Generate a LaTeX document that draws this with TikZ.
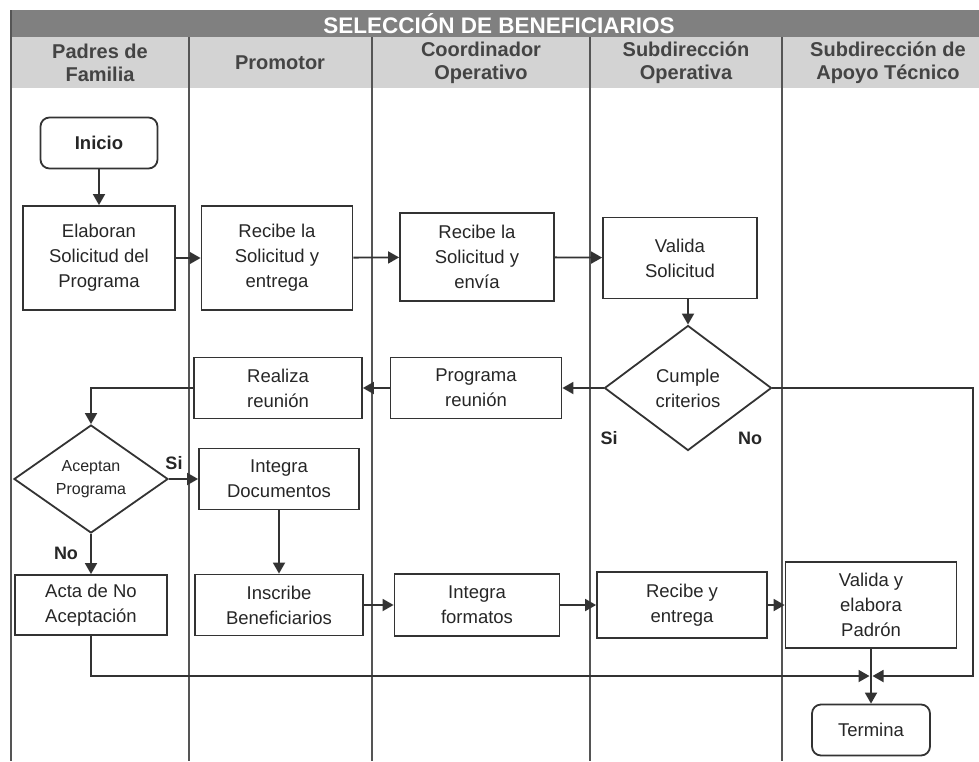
\documentclass[tikz,border=0pt]{standalone}
\usepackage{fontspec}
\setmainfont{Liberation Sans}
\usetikzlibrary{shapes.geometric,arrows.meta}

\definecolor{boxline}{HTML}{333333}
\definecolor{laneline}{HTML}{555555}
\definecolor{titlegray}{HTML}{808080}
\definecolor{headgray}{HTML}{D3D3D3}
\definecolor{headtext}{HTML}{444444}

\begin{document}
\begin{tikzpicture}[x=1pt, y=-1pt,
    block/.style={rectangle, draw=boxline, line width=1.8pt, align=center, inner sep=2pt, text=black!85, font=\fontsize{18.5}{25}\selectfont},
    term/.style={block, rounded corners=9pt},
    decision/.style={diamond, draw=boxline, line width=1.8pt, align=center, inner sep=0pt, text=black!85, font=\fontsize{18.5}{25}\selectfont},
    flow/.style={draw=boxline, line width=1.8pt, -{Triangle[width=12pt,length=11pt]}},
    tag/.style={font=\bfseries\fontsize{18}{20}\selectfont, text=black!85},
    lane/.style={draw=laneline, line width=1.2pt},
    header/.style={font=\bfseries\fontsize{20}{23}\selectfont, text=headtext, align=center}]
    \useasboundingbox (0,0) rectangle (979,761);
    % title band and lane headers
    \fill [titlegray] (11,10) rectangle (979,37);
    \fill [headgray] (11,37) rectangle (979,88);
    \node [font=\bfseries\fontsize{22.5}{25}\selectfont, text=white] (title) at (499,24) {SELECCIÓN DE BENEFICIARIOS};
    \node [header] (padres) at (100,63) {Padres de\\Familia};
    \node [header] (promotor) at (280,63) {Promotor};
    \node [header] (coord) at (481,63) {Coordinador\\Operativo};
    \node [header] (subope) at (686,63) {Subdirección\\Operativa};
    \node [header] (subapoyo) at (888,63) {Subdirección de\\Apoyo Técnico};
    \draw [lane] (11,10) -- (11,761);
    \foreach \x in {189,372,590,782}
        \draw [lane] (\x,37) -- (\x,761);
    % nodes
    \node [term, font=\bfseries\fontsize{18.5}{25}\selectfont, minimum width=117pt, minimum height=51pt] (inicio) at (99,143) {Inicio};
    \node [block, minimum width=152pt, minimum height=104pt] (elaboran) at (99,258) {Elaboran\\Solicitud del\\Programa};
    \node [block, minimum width=151pt, minimum height=104pt] (recibe) at (277,258) {Recibe la\\Solicitud y\\entrega};
    \node [block, minimum width=154pt, minimum height=88pt] (recibeenv) at (477,257) {Recibe la\\Solicitud y\\envía};
    \node [block, minimum width=154pt, minimum height=81pt] (valida) at (680,258) {Valida\\Solicitud};
    \node [decision, minimum width=167pt, minimum height=125pt] (cumple) at (688,388) {Cumple\\criterios};
    \node [block, minimum width=171pt, minimum height=61pt] (programa) at (476,388) {Programa\\reunión};
    \node [block, minimum width=168pt, minimum height=61pt] (realiza) at (278,388) {Realiza\\reunión};
    \node [decision, font=\fontsize{16}{23}\selectfont, minimum width=154pt, minimum height=108pt] (aceptan) at (91,479) {Aceptan\\Programa};
    \node [block, minimum width=160pt, minimum height=61pt] (integradoc) at (279,479) {Integra\\Documentos};
    \node [block, minimum width=152pt, minimum height=60pt] (acta) at (91,605) {Acta de No\\Aceptación};
    \node [block, minimum width=168pt, minimum height=61pt] (inscribe) at (279,605) {Inscribe\\Beneficiarios};
    \node [block, minimum width=165pt, minimum height=62pt] (integrafor) at (477,605) {Integra\\formatos};
    \node [block, minimum width=170pt, minimum height=66pt] (recibey) at (682,605) {Recibe y\\entrega};
    \node [block, minimum width=171pt, minimum height=86pt] (validay) at (871,605) {Valida y\\elabora\\Padrón};
    \node [term, minimum width=118pt, minimum height=51pt] (termina) at (871,730) {Termina};
    % labels
    \node [tag] (si1) at (174,463) {Si};
    \node [tag] (no1) at (66,553) {No};
    \node [tag] (si2) at (609,438) {Si};
    \node [tag] (no2) at (750,438) {No};
    % connectors
    \coordinate (merge) at (871,676);
    \coordinate (noturn) at (973,676);
    \draw [flow] (inicio) -- (elaboran);
    \draw [flow] (elaboran) -- (recibe);
    \draw [flow] (recibe) -- (recibeenv);
    \draw [flow] (recibeenv) -- (valida);
    \draw [flow] (valida.south -| cumple.north) -- (cumple.north);
    \draw [flow] (cumple) -- (programa);
    \draw [flow] (programa) -- (realiza);
    \draw [flow] (realiza.west) -| (aceptan.north);
    \draw [flow] (aceptan) -- (integradoc);
    \draw [flow] (aceptan) -- (acta);
    \draw [flow] (integradoc) -- (inscribe);
    \draw [flow] (inscribe) -- (integrafor);
    \draw [flow] (integrafor) -- (recibey);
    \draw [flow] (recibey) -- (validay);
    \draw [flow] (validay) -- (termina);
    \draw [flow, shorten >=1.5pt] (acta.south) |- (merge);
    \draw [flow, shorten >=1.5pt] (cumple.east) -| (noturn) -- (merge);
\end{tikzpicture}
\end{document}
